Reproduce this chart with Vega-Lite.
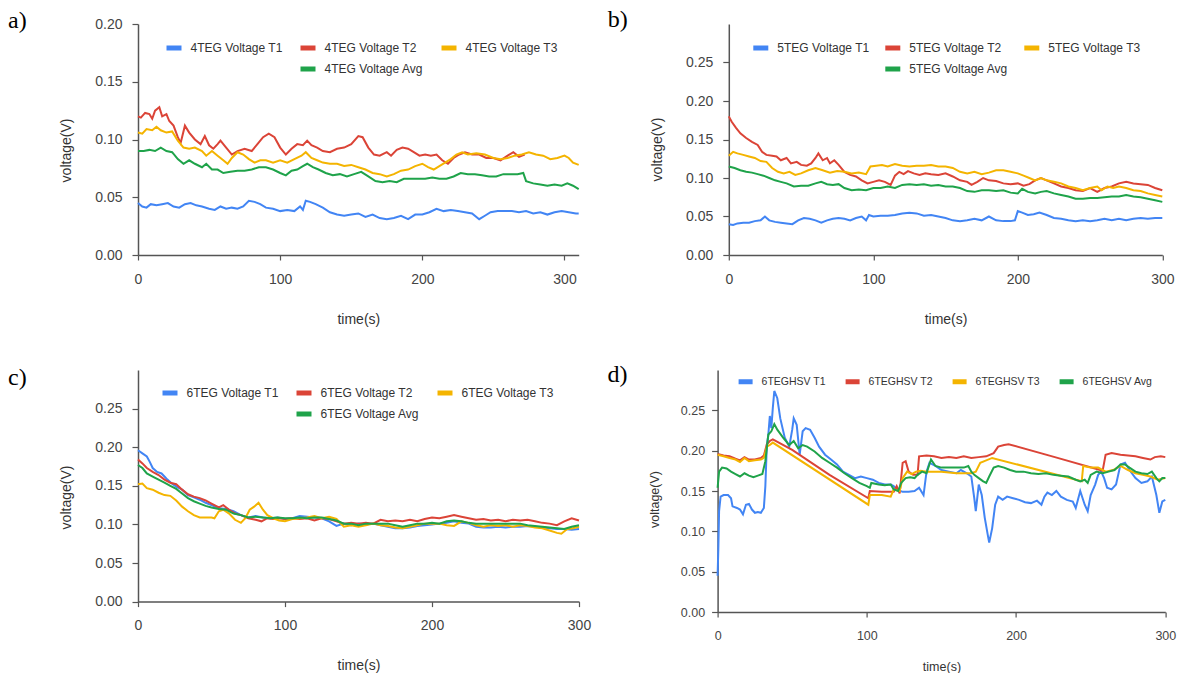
{
"$schema":"https://vega.github.io/schema/vega-lite/v6.json",
"background":"white",
"padding":{"left":8,"top":8,"right":5,"bottom":2},
"config":{
"view":{"stroke":null},
"font":"Liberation Sans",
"axis":{"grid":false,"domainColor":"#555","domainWidth":1.5,"tickColor":"#555","tickWidth":1.2,"labelColor":"#444","titleColor":"#333","labelFont":"Liberation Sans","titleFont":"Liberation Sans","labelFontSize":14,"titleFontSize":14,"titleFontWeight":"normal","labelFlush":false,"labelOverlap":false},
"axisX":{"tickSize":5,"labelPadding":12,"titlePadding":26},
"axisY":{"tickSize":6,"labelPadding":10,"titlePadding":21},
"legend":{"labelFont":"Liberation Sans","labelFontSize":12,"labelColor":"#333","symbolType":"stroke","symbolStrokeWidth":5,"symbolSize":225,"labelOffset":6.5,"columnPadding":7,"rowPadding":1,"direction":"horizontal","orient":"none"}
},
"datasets":{
"a":[
{"s":"4TEG Voltage T1","t":0,"v":0.045},{"s":"4TEG Voltage T1","t":3,"v":0.042},{"s":"4TEG Voltage T1","t":6,"v":0.041},{"s":"4TEG Voltage T1","t":9,"v":0.044},{"s":"4TEG Voltage T1","t":13,"v":0.043},{"s":"4TEG Voltage T1","t":17,"v":0.044},{"s":"4TEG Voltage T1","t":21,"v":0.045},{"s":"4TEG Voltage T1","t":25,"v":0.042},{"s":"4TEG Voltage T1","t":29,"v":0.041},{"s":"4TEG Voltage T1","t":33,"v":0.044},{"s":"4TEG Voltage T1","t":37,"v":0.045},{"s":"4TEG Voltage T1","t":41,"v":0.043},{"s":"4TEG Voltage T1","t":45,"v":0.042},{"s":"4TEG Voltage T1","t":50,"v":0.040},{"s":"4TEG Voltage T1","t":54,"v":0.039},{"s":"4TEG Voltage T1","t":58,"v":0.042},{"s":"4TEG Voltage T1","t":62,"v":0.040},{"s":"4TEG Voltage T1","t":66,"v":0.041},{"s":"4TEG Voltage T1","t":70,"v":0.040},{"s":"4TEG Voltage T1","t":74,"v":0.042},{"s":"4TEG Voltage T1","t":78,"v":0.047},{"s":"4TEG Voltage T1","t":82,"v":0.046},{"s":"4TEG Voltage T1","t":86,"v":0.044},{"s":"4TEG Voltage T1","t":90,"v":0.041},{"s":"4TEG Voltage T1","t":95,"v":0.040},{"s":"4TEG Voltage T1","t":100,"v":0.038},{"s":"4TEG Voltage T1","t":105,"v":0.039},{"s":"4TEG Voltage T1","t":110,"v":0.038},{"s":"4TEG Voltage T1","t":114,"v":0.042},{"s":"4TEG Voltage T1","t":116,"v":0.039},{"s":"4TEG Voltage T1","t":118,"v":0.047},{"s":"4TEG Voltage T1","t":121,"v":0.046},{"s":"4TEG Voltage T1","t":125,"v":0.044},{"s":"4TEG Voltage T1","t":130,"v":0.041},{"s":"4TEG Voltage T1","t":135,"v":0.037},{"s":"4TEG Voltage T1","t":140,"v":0.035},{"s":"4TEG Voltage T1","t":145,"v":0.034},{"s":"4TEG Voltage T1","t":150,"v":0.035},{"s":"4TEG Voltage T1","t":155,"v":0.036},{"s":"4TEG Voltage T1","t":160,"v":0.033},{"s":"4TEG Voltage T1","t":165,"v":0.035},{"s":"4TEG Voltage T1","t":170,"v":0.032},{"s":"4TEG Voltage T1","t":175,"v":0.031},{"s":"4TEG Voltage T1","t":180,"v":0.032},{"s":"4TEG Voltage T1","t":185,"v":0.034},{"s":"4TEG Voltage T1","t":190,"v":0.031},{"s":"4TEG Voltage T1","t":195,"v":0.035},{"s":"4TEG Voltage T1","t":200,"v":0.035},{"s":"4TEG Voltage T1","t":205,"v":0.037},{"s":"4TEG Voltage T1","t":210,"v":0.040},{"s":"4TEG Voltage T1","t":215,"v":0.038},{"s":"4TEG Voltage T1","t":220,"v":0.039},{"s":"4TEG Voltage T1","t":225,"v":0.038},{"s":"4TEG Voltage T1","t":230,"v":0.037},{"s":"4TEG Voltage T1","t":235,"v":0.036},{"s":"4TEG Voltage T1","t":240,"v":0.031},{"s":"4TEG Voltage T1","t":244,"v":0.034},{"s":"4TEG Voltage T1","t":248,"v":0.037},{"s":"4TEG Voltage T1","t":253,"v":0.038},{"s":"4TEG Voltage T1","t":258,"v":0.038},{"s":"4TEG Voltage T1","t":263,"v":0.038},{"s":"4TEG Voltage T1","t":268,"v":0.037},{"s":"4TEG Voltage T1","t":273,"v":0.038},{"s":"4TEG Voltage T1","t":278,"v":0.036},{"s":"4TEG Voltage T1","t":283,"v":0.037},{"s":"4TEG Voltage T1","t":288,"v":0.035},{"s":"4TEG Voltage T1","t":293,"v":0.037},{"s":"4TEG Voltage T1","t":298,"v":0.038},{"s":"4TEG Voltage T1","t":303,"v":0.037},{"s":"4TEG Voltage T1","t":308,"v":0.036},{"s":"4TEG Voltage T1","t":310,"v":0.036},
{"s":"4TEG Voltage T2","t":0,"v":0.120},{"s":"4TEG Voltage T2","t":2,"v":0.119},{"s":"4TEG Voltage T2","t":5,"v":0.123},{"s":"4TEG Voltage T2","t":8,"v":0.122},{"s":"4TEG Voltage T2","t":10,"v":0.118},{"s":"4TEG Voltage T2","t":12,"v":0.125},{"s":"4TEG Voltage T2","t":15,"v":0.128},{"s":"4TEG Voltage T2","t":17,"v":0.120},{"s":"4TEG Voltage T2","t":20,"v":0.122},{"s":"4TEG Voltage T2","t":22,"v":0.116},{"s":"4TEG Voltage T2","t":25,"v":0.112},{"s":"4TEG Voltage T2","t":28,"v":0.102},{"s":"4TEG Voltage T2","t":30,"v":0.097},{"s":"4TEG Voltage T2","t":33,"v":0.112},{"s":"4TEG Voltage T2","t":36,"v":0.106},{"s":"4TEG Voltage T2","t":40,"v":0.100},{"s":"4TEG Voltage T2","t":44,"v":0.096},{"s":"4TEG Voltage T2","t":47,"v":0.103},{"s":"4TEG Voltage T2","t":50,"v":0.095},{"s":"4TEG Voltage T2","t":53,"v":0.092},{"s":"4TEG Voltage T2","t":56,"v":0.096},{"s":"4TEG Voltage T2","t":58,"v":0.099},{"s":"4TEG Voltage T2","t":62,"v":0.093},{"s":"4TEG Voltage T2","t":66,"v":0.087},{"s":"4TEG Voltage T2","t":70,"v":0.090},{"s":"4TEG Voltage T2","t":75,"v":0.092},{"s":"4TEG Voltage T2","t":80,"v":0.090},{"s":"4TEG Voltage T2","t":84,"v":0.096},{"s":"4TEG Voltage T2","t":88,"v":0.102},{"s":"4TEG Voltage T2","t":92,"v":0.105},{"s":"4TEG Voltage T2","t":96,"v":0.102},{"s":"4TEG Voltage T2","t":100,"v":0.093},{"s":"4TEG Voltage T2","t":104,"v":0.087},{"s":"4TEG Voltage T2","t":108,"v":0.092},{"s":"4TEG Voltage T2","t":112,"v":0.096},{"s":"4TEG Voltage T2","t":116,"v":0.095},{"s":"4TEG Voltage T2","t":119,"v":0.099},{"s":"4TEG Voltage T2","t":122,"v":0.095},{"s":"4TEG Voltage T2","t":126,"v":0.093},{"s":"4TEG Voltage T2","t":130,"v":0.090},{"s":"4TEG Voltage T2","t":135,"v":0.089},{"s":"4TEG Voltage T2","t":140,"v":0.092},{"s":"4TEG Voltage T2","t":145,"v":0.093},{"s":"4TEG Voltage T2","t":150,"v":0.096},{"s":"4TEG Voltage T2","t":155,"v":0.103},{"s":"4TEG Voltage T2","t":158,"v":0.102},{"s":"4TEG Voltage T2","t":162,"v":0.093},{"s":"4TEG Voltage T2","t":166,"v":0.087},{"s":"4TEG Voltage T2","t":170,"v":0.086},{"s":"4TEG Voltage T2","t":175,"v":0.089},{"s":"4TEG Voltage T2","t":178,"v":0.086},{"s":"4TEG Voltage T2","t":182,"v":0.091},{"s":"4TEG Voltage T2","t":186,"v":0.093},{"s":"4TEG Voltage T2","t":190,"v":0.092},{"s":"4TEG Voltage T2","t":194,"v":0.089},{"s":"4TEG Voltage T2","t":198,"v":0.086},{"s":"4TEG Voltage T2","t":202,"v":0.087},{"s":"4TEG Voltage T2","t":206,"v":0.086},{"s":"4TEG Voltage T2","t":210,"v":0.087},{"s":"4TEG Voltage T2","t":214,"v":0.082},{"s":"4TEG Voltage T2","t":218,"v":0.079},{"s":"4TEG Voltage T2","t":222,"v":0.084},{"s":"4TEG Voltage T2","t":226,"v":0.087},{"s":"4TEG Voltage T2","t":230,"v":0.089},{"s":"4TEG Voltage T2","t":235,"v":0.087},{"s":"4TEG Voltage T2","t":240,"v":0.087},{"s":"4TEG Voltage T2","t":245,"v":0.084},{"s":"4TEG Voltage T2","t":250,"v":0.084},{"s":"4TEG Voltage T2","t":255,"v":0.082},{"s":"4TEG Voltage T2","t":260,"v":0.086},{"s":"4TEG Voltage T2","t":264,"v":0.089},{"s":"4TEG Voltage T2","t":268,"v":0.085},{"s":"4TEG Voltage T2","t":272,"v":0.087},
{"s":"4TEG Voltage T3","t":0,"v":0.106},{"s":"4TEG Voltage T3","t":3,"v":0.105},{"s":"4TEG Voltage T3","t":6,"v":0.109},{"s":"4TEG Voltage T3","t":10,"v":0.108},{"s":"4TEG Voltage T3","t":13,"v":0.111},{"s":"4TEG Voltage T3","t":16,"v":0.108},{"s":"4TEG Voltage T3","t":20,"v":0.106},{"s":"4TEG Voltage T3","t":24,"v":0.107},{"s":"4TEG Voltage T3","t":28,"v":0.099},{"s":"4TEG Voltage T3","t":32,"v":0.093},{"s":"4TEG Voltage T3","t":36,"v":0.092},{"s":"4TEG Voltage T3","t":40,"v":0.093},{"s":"4TEG Voltage T3","t":45,"v":0.090},{"s":"4TEG Voltage T3","t":48,"v":0.086},{"s":"4TEG Voltage T3","t":52,"v":0.090},{"s":"4TEG Voltage T3","t":56,"v":0.086},{"s":"4TEG Voltage T3","t":60,"v":0.082},{"s":"4TEG Voltage T3","t":63,"v":0.079},{"s":"4TEG Voltage T3","t":66,"v":0.084},{"s":"4TEG Voltage T3","t":70,"v":0.089},{"s":"4TEG Voltage T3","t":74,"v":0.087},{"s":"4TEG Voltage T3","t":78,"v":0.083},{"s":"4TEG Voltage T3","t":82,"v":0.080},{"s":"4TEG Voltage T3","t":86,"v":0.082},{"s":"4TEG Voltage T3","t":90,"v":0.082},{"s":"4TEG Voltage T3","t":95,"v":0.080},{"s":"4TEG Voltage T3","t":100,"v":0.082},{"s":"4TEG Voltage T3","t":105,"v":0.080},{"s":"4TEG Voltage T3","t":110,"v":0.083},{"s":"4TEG Voltage T3","t":115,"v":0.086},{"s":"4TEG Voltage T3","t":118,"v":0.089},{"s":"4TEG Voltage T3","t":122,"v":0.084},{"s":"4TEG Voltage T3","t":126,"v":0.082},{"s":"4TEG Voltage T3","t":130,"v":0.080},{"s":"4TEG Voltage T3","t":135,"v":0.079},{"s":"4TEG Voltage T3","t":140,"v":0.079},{"s":"4TEG Voltage T3","t":145,"v":0.077},{"s":"4TEG Voltage T3","t":150,"v":0.078},{"s":"4TEG Voltage T3","t":155,"v":0.076},{"s":"4TEG Voltage T3","t":160,"v":0.074},{"s":"4TEG Voltage T3","t":165,"v":0.071},{"s":"4TEG Voltage T3","t":170,"v":0.070},{"s":"4TEG Voltage T3","t":175,"v":0.068},{"s":"4TEG Voltage T3","t":180,"v":0.070},{"s":"4TEG Voltage T3","t":185,"v":0.073},{"s":"4TEG Voltage T3","t":190,"v":0.074},{"s":"4TEG Voltage T3","t":195,"v":0.077},{"s":"4TEG Voltage T3","t":200,"v":0.079},{"s":"4TEG Voltage T3","t":204,"v":0.076},{"s":"4TEG Voltage T3","t":208,"v":0.074},{"s":"4TEG Voltage T3","t":212,"v":0.077},{"s":"4TEG Voltage T3","t":216,"v":0.080},{"s":"4TEG Voltage T3","t":220,"v":0.083},{"s":"4TEG Voltage T3","t":224,"v":0.087},{"s":"4TEG Voltage T3","t":228,"v":0.089},{"s":"4TEG Voltage T3","t":232,"v":0.087},{"s":"4TEG Voltage T3","t":238,"v":0.088},{"s":"4TEG Voltage T3","t":244,"v":0.087},{"s":"4TEG Voltage T3","t":250,"v":0.084},{"s":"4TEG Voltage T3","t":255,"v":0.083},{"s":"4TEG Voltage T3","t":260,"v":0.084},{"s":"4TEG Voltage T3","t":265,"v":0.086},{"s":"4TEG Voltage T3","t":270,"v":0.087},{"s":"4TEG Voltage T3","t":275,"v":0.089},{"s":"4TEG Voltage T3","t":280,"v":0.087},{"s":"4TEG Voltage T3","t":285,"v":0.086},{"s":"4TEG Voltage T3","t":290,"v":0.083},{"s":"4TEG Voltage T3","t":295,"v":0.084},{"s":"4TEG Voltage T3","t":300,"v":0.086},{"s":"4TEG Voltage T3","t":303,"v":0.084},{"s":"4TEG Voltage T3","t":306,"v":0.080},{"s":"4TEG Voltage T3","t":310,"v":0.078},
{"s":"4TEG Voltage Avg","t":0,"v":0.090},{"s":"4TEG Voltage Avg","t":4,"v":0.090},{"s":"4TEG Voltage Avg","t":8,"v":0.091},{"s":"4TEG Voltage Avg","t":12,"v":0.090},{"s":"4TEG Voltage Avg","t":16,"v":0.093},{"s":"4TEG Voltage Avg","t":20,"v":0.090},{"s":"4TEG Voltage Avg","t":24,"v":0.089},{"s":"4TEG Voltage Avg","t":28,"v":0.083},{"s":"4TEG Voltage Avg","t":32,"v":0.079},{"s":"4TEG Voltage Avg","t":36,"v":0.082},{"s":"4TEG Voltage Avg","t":40,"v":0.079},{"s":"4TEG Voltage Avg","t":45,"v":0.076},{"s":"4TEG Voltage Avg","t":48,"v":0.079},{"s":"4TEG Voltage Avg","t":52,"v":0.074},{"s":"4TEG Voltage Avg","t":56,"v":0.074},{"s":"4TEG Voltage Avg","t":60,"v":0.071},{"s":"4TEG Voltage Avg","t":65,"v":0.072},{"s":"4TEG Voltage Avg","t":70,"v":0.073},{"s":"4TEG Voltage Avg","t":75,"v":0.073},{"s":"4TEG Voltage Avg","t":80,"v":0.074},{"s":"4TEG Voltage Avg","t":85,"v":0.076},{"s":"4TEG Voltage Avg","t":90,"v":0.076},{"s":"4TEG Voltage Avg","t":95,"v":0.074},{"s":"4TEG Voltage Avg","t":100,"v":0.071},{"s":"4TEG Voltage Avg","t":104,"v":0.069},{"s":"4TEG Voltage Avg","t":108,"v":0.073},{"s":"4TEG Voltage Avg","t":112,"v":0.074},{"s":"4TEG Voltage Avg","t":116,"v":0.077},{"s":"4TEG Voltage Avg","t":119,"v":0.079},{"s":"4TEG Voltage Avg","t":123,"v":0.076},{"s":"4TEG Voltage Avg","t":127,"v":0.074},{"s":"4TEG Voltage Avg","t":132,"v":0.071},{"s":"4TEG Voltage Avg","t":137,"v":0.069},{"s":"4TEG Voltage Avg","t":142,"v":0.070},{"s":"4TEG Voltage Avg","t":147,"v":0.068},{"s":"4TEG Voltage Avg","t":152,"v":0.070},{"s":"4TEG Voltage Avg","t":157,"v":0.072},{"s":"4TEG Voltage Avg","t":162,"v":0.068},{"s":"4TEG Voltage Avg","t":167,"v":0.064},{"s":"4TEG Voltage Avg","t":172,"v":0.063},{"s":"4TEG Voltage Avg","t":177,"v":0.064},{"s":"4TEG Voltage Avg","t":182,"v":0.063},{"s":"4TEG Voltage Avg","t":187,"v":0.066},{"s":"4TEG Voltage Avg","t":192,"v":0.066},{"s":"4TEG Voltage Avg","t":197,"v":0.066},{"s":"4TEG Voltage Avg","t":202,"v":0.066},{"s":"4TEG Voltage Avg","t":207,"v":0.067},{"s":"4TEG Voltage Avg","t":212,"v":0.066},{"s":"4TEG Voltage Avg","t":217,"v":0.066},{"s":"4TEG Voltage Avg","t":222,"v":0.068},{"s":"4TEG Voltage Avg","t":227,"v":0.071},{"s":"4TEG Voltage Avg","t":232,"v":0.070},{"s":"4TEG Voltage Avg","t":237,"v":0.070},{"s":"4TEG Voltage Avg","t":242,"v":0.069},{"s":"4TEG Voltage Avg","t":247,"v":0.068},{"s":"4TEG Voltage Avg","t":252,"v":0.068},{"s":"4TEG Voltage Avg","t":257,"v":0.070},{"s":"4TEG Voltage Avg","t":262,"v":0.070},{"s":"4TEG Voltage Avg","t":267,"v":0.070},{"s":"4TEG Voltage Avg","t":271,"v":0.071},{"s":"4TEG Voltage Avg","t":273,"v":0.064},{"s":"4TEG Voltage Avg","t":278,"v":0.062},{"s":"4TEG Voltage Avg","t":283,"v":0.061},{"s":"4TEG Voltage Avg","t":288,"v":0.060},{"s":"4TEG Voltage Avg","t":293,"v":0.061},{"s":"4TEG Voltage Avg","t":298,"v":0.060},{"s":"4TEG Voltage Avg","t":302,"v":0.062},{"s":"4TEG Voltage Avg","t":306,"v":0.060},{"s":"4TEG Voltage Avg","t":310,"v":0.057}
],
"b":[
{"s":"5TEG Voltage T1","t":0,"v":0.040},{"s":"5TEG Voltage T1","t":3,"v":0.039},{"s":"5TEG Voltage T1","t":6,"v":0.041},{"s":"5TEG Voltage T1","t":10,"v":0.042},{"s":"5TEG Voltage T1","t":14,"v":0.042},{"s":"5TEG Voltage T1","t":18,"v":0.044},{"s":"5TEG Voltage T1","t":22,"v":0.045},{"s":"5TEG Voltage T1","t":25,"v":0.050},{"s":"5TEG Voltage T1","t":28,"v":0.045},{"s":"5TEG Voltage T1","t":32,"v":0.043},{"s":"5TEG Voltage T1","t":36,"v":0.042},{"s":"5TEG Voltage T1","t":40,"v":0.041},{"s":"5TEG Voltage T1","t":44,"v":0.040},{"s":"5TEG Voltage T1","t":48,"v":0.045},{"s":"5TEG Voltage T1","t":52,"v":0.048},{"s":"5TEG Voltage T1","t":56,"v":0.047},{"s":"5TEG Voltage T1","t":60,"v":0.045},{"s":"5TEG Voltage T1","t":64,"v":0.042},{"s":"5TEG Voltage T1","t":68,"v":0.045},{"s":"5TEG Voltage T1","t":72,"v":0.047},{"s":"5TEG Voltage T1","t":76,"v":0.048},{"s":"5TEG Voltage T1","t":80,"v":0.047},{"s":"5TEG Voltage T1","t":84,"v":0.045},{"s":"5TEG Voltage T1","t":88,"v":0.048},{"s":"5TEG Voltage T1","t":92,"v":0.050},{"s":"5TEG Voltage T1","t":95,"v":0.045},{"s":"5TEG Voltage T1","t":97,"v":0.052},{"s":"5TEG Voltage T1","t":100,"v":0.050},{"s":"5TEG Voltage T1","t":105,"v":0.051},{"s":"5TEG Voltage T1","t":110,"v":0.051},{"s":"5TEG Voltage T1","t":115,"v":0.052},{"s":"5TEG Voltage T1","t":120,"v":0.054},{"s":"5TEG Voltage T1","t":125,"v":0.055},{"s":"5TEG Voltage T1","t":130,"v":0.054},{"s":"5TEG Voltage T1","t":135,"v":0.051},{"s":"5TEG Voltage T1","t":140,"v":0.052},{"s":"5TEG Voltage T1","t":145,"v":0.050},{"s":"5TEG Voltage T1","t":150,"v":0.048},{"s":"5TEG Voltage T1","t":155,"v":0.045},{"s":"5TEG Voltage T1","t":160,"v":0.044},{"s":"5TEG Voltage T1","t":165,"v":0.045},{"s":"5TEG Voltage T1","t":170,"v":0.047},{"s":"5TEG Voltage T1","t":175,"v":0.045},{"s":"5TEG Voltage T1","t":180,"v":0.050},{"s":"5TEG Voltage T1","t":185,"v":0.045},{"s":"5TEG Voltage T1","t":190,"v":0.044},{"s":"5TEG Voltage T1","t":195,"v":0.044},{"s":"5TEG Voltage T1","t":198,"v":0.045},{"s":"5TEG Voltage T1","t":200,"v":0.057},{"s":"5TEG Voltage T1","t":203,"v":0.055},{"s":"5TEG Voltage T1","t":207,"v":0.052},{"s":"5TEG Voltage T1","t":211,"v":0.053},{"s":"5TEG Voltage T1","t":215,"v":0.055},{"s":"5TEG Voltage T1","t":220,"v":0.052},{"s":"5TEG Voltage T1","t":225,"v":0.048},{"s":"5TEG Voltage T1","t":230,"v":0.047},{"s":"5TEG Voltage T1","t":235,"v":0.045},{"s":"5TEG Voltage T1","t":240,"v":0.044},{"s":"5TEG Voltage T1","t":245,"v":0.045},{"s":"5TEG Voltage T1","t":250,"v":0.044},{"s":"5TEG Voltage T1","t":255,"v":0.045},{"s":"5TEG Voltage T1","t":260,"v":0.047},{"s":"5TEG Voltage T1","t":265,"v":0.045},{"s":"5TEG Voltage T1","t":270,"v":0.047},{"s":"5TEG Voltage T1","t":275,"v":0.045},{"s":"5TEG Voltage T1","t":280,"v":0.047},{"s":"5TEG Voltage T1","t":285,"v":0.048},{"s":"5TEG Voltage T1","t":290,"v":0.047},{"s":"5TEG Voltage T1","t":295,"v":0.048},{"s":"5TEG Voltage T1","t":300,"v":0.048},
{"s":"5TEG Voltage T2","t":0,"v":0.180},{"s":"5TEG Voltage T2","t":2,"v":0.173},{"s":"5TEG Voltage T2","t":5,"v":0.165},{"s":"5TEG Voltage T2","t":8,"v":0.158},{"s":"5TEG Voltage T2","t":12,"v":0.152},{"s":"5TEG Voltage T2","t":16,"v":0.147},{"s":"5TEG Voltage T2","t":20,"v":0.143},{"s":"5TEG Voltage T2","t":23,"v":0.134},{"s":"5TEG Voltage T2","t":26,"v":0.130},{"s":"5TEG Voltage T2","t":30,"v":0.129},{"s":"5TEG Voltage T2","t":33,"v":0.128},{"s":"5TEG Voltage T2","t":36,"v":0.123},{"s":"5TEG Voltage T2","t":40,"v":0.126},{"s":"5TEG Voltage T2","t":43,"v":0.119},{"s":"5TEG Voltage T2","t":47,"v":0.121},{"s":"5TEG Voltage T2","t":50,"v":0.117},{"s":"5TEG Voltage T2","t":54,"v":0.116},{"s":"5TEG Voltage T2","t":57,"v":0.119},{"s":"5TEG Voltage T2","t":60,"v":0.126},{"s":"5TEG Voltage T2","t":62,"v":0.132},{"s":"5TEG Voltage T2","t":65,"v":0.123},{"s":"5TEG Voltage T2","t":68,"v":0.126},{"s":"5TEG Voltage T2","t":70,"v":0.119},{"s":"5TEG Voltage T2","t":73,"v":0.123},{"s":"5TEG Voltage T2","t":76,"v":0.117},{"s":"5TEG Voltage T2","t":80,"v":0.108},{"s":"5TEG Voltage T2","t":84,"v":0.104},{"s":"5TEG Voltage T2","t":88,"v":0.102},{"s":"5TEG Voltage T2","t":92,"v":0.097},{"s":"5TEG Voltage T2","t":96,"v":0.093},{"s":"5TEG Voltage T2","t":100,"v":0.095},{"s":"5TEG Voltage T2","t":104,"v":0.097},{"s":"5TEG Voltage T2","t":108,"v":0.095},{"s":"5TEG Voltage T2","t":112,"v":0.091},{"s":"5TEG Voltage T2","t":115,"v":0.103},{"s":"5TEG Voltage T2","t":118,"v":0.108},{"s":"5TEG Voltage T2","t":121,"v":0.105},{"s":"5TEG Voltage T2","t":124,"v":0.109},{"s":"5TEG Voltage T2","t":128,"v":0.106},{"s":"5TEG Voltage T2","t":132,"v":0.104},{"s":"5TEG Voltage T2","t":136,"v":0.106},{"s":"5TEG Voltage T2","t":140,"v":0.105},{"s":"5TEG Voltage T2","t":145,"v":0.104},{"s":"5TEG Voltage T2","t":150,"v":0.106},{"s":"5TEG Voltage T2","t":155,"v":0.102},{"s":"5TEG Voltage T2","t":160,"v":0.097},{"s":"5TEG Voltage T2","t":165,"v":0.095},{"s":"5TEG Voltage T2","t":168,"v":0.091},{"s":"5TEG Voltage T2","t":172,"v":0.095},{"s":"5TEG Voltage T2","t":176,"v":0.100},{"s":"5TEG Voltage T2","t":180,"v":0.097},{"s":"5TEG Voltage T2","t":185,"v":0.096},{"s":"5TEG Voltage T2","t":190,"v":0.093},{"s":"5TEG Voltage T2","t":195,"v":0.092},{"s":"5TEG Voltage T2","t":200,"v":0.093},{"s":"5TEG Voltage T2","t":204,"v":0.090},{"s":"5TEG Voltage T2","t":208,"v":0.092},{"s":"5TEG Voltage T2","t":212,"v":0.097},{"s":"5TEG Voltage T2","t":216,"v":0.100},{"s":"5TEG Voltage T2","t":220,"v":0.097},{"s":"5TEG Voltage T2","t":225,"v":0.093},{"s":"5TEG Voltage T2","t":230,"v":0.089},{"s":"5TEG Voltage T2","t":235,"v":0.087},{"s":"5TEG Voltage T2","t":240,"v":0.084},{"s":"5TEG Voltage T2","t":245,"v":0.083},{"s":"5TEG Voltage T2","t":250,"v":0.087},{"s":"5TEG Voltage T2","t":255,"v":0.082},{"s":"5TEG Voltage T2","t":260,"v":0.087},{"s":"5TEG Voltage T2","t":265,"v":0.089},{"s":"5TEG Voltage T2","t":270,"v":0.093},{"s":"5TEG Voltage T2","t":275,"v":0.095},{"s":"5TEG Voltage T2","t":280,"v":0.093},{"s":"5TEG Voltage T2","t":285,"v":0.092},{"s":"5TEG Voltage T2","t":290,"v":0.091},{"s":"5TEG Voltage T2","t":295,"v":0.087},{"s":"5TEG Voltage T2","t":300,"v":0.084},
{"s":"5TEG Voltage T3","t":0,"v":0.129},{"s":"5TEG Voltage T3","t":3,"v":0.134},{"s":"5TEG Voltage T3","t":6,"v":0.132},{"s":"5TEG Voltage T3","t":10,"v":0.130},{"s":"5TEG Voltage T3","t":14,"v":0.128},{"s":"5TEG Voltage T3","t":18,"v":0.126},{"s":"5TEG Voltage T3","t":22,"v":0.122},{"s":"5TEG Voltage T3","t":26,"v":0.121},{"s":"5TEG Voltage T3","t":30,"v":0.113},{"s":"5TEG Voltage T3","t":34,"v":0.108},{"s":"5TEG Voltage T3","t":38,"v":0.106},{"s":"5TEG Voltage T3","t":42,"v":0.108},{"s":"5TEG Voltage T3","t":46,"v":0.104},{"s":"5TEG Voltage T3","t":50,"v":0.106},{"s":"5TEG Voltage T3","t":55,"v":0.110},{"s":"5TEG Voltage T3","t":60,"v":0.113},{"s":"5TEG Voltage T3","t":65,"v":0.110},{"s":"5TEG Voltage T3","t":70,"v":0.107},{"s":"5TEG Voltage T3","t":75,"v":0.109},{"s":"5TEG Voltage T3","t":80,"v":0.108},{"s":"5TEG Voltage T3","t":85,"v":0.106},{"s":"5TEG Voltage T3","t":90,"v":0.107},{"s":"5TEG Voltage T3","t":95,"v":0.105},{"s":"5TEG Voltage T3","t":98,"v":0.115},{"s":"5TEG Voltage T3","t":102,"v":0.116},{"s":"5TEG Voltage T3","t":106,"v":0.117},{"s":"5TEG Voltage T3","t":110,"v":0.115},{"s":"5TEG Voltage T3","t":115,"v":0.118},{"s":"5TEG Voltage T3","t":120,"v":0.116},{"s":"5TEG Voltage T3","t":125,"v":0.115},{"s":"5TEG Voltage T3","t":130,"v":0.116},{"s":"5TEG Voltage T3","t":135,"v":0.116},{"s":"5TEG Voltage T3","t":140,"v":0.117},{"s":"5TEG Voltage T3","t":145,"v":0.115},{"s":"5TEG Voltage T3","t":150,"v":0.115},{"s":"5TEG Voltage T3","t":155,"v":0.113},{"s":"5TEG Voltage T3","t":160,"v":0.108},{"s":"5TEG Voltage T3","t":165,"v":0.106},{"s":"5TEG Voltage T3","t":170,"v":0.108},{"s":"5TEG Voltage T3","t":175,"v":0.105},{"s":"5TEG Voltage T3","t":180,"v":0.107},{"s":"5TEG Voltage T3","t":185,"v":0.110},{"s":"5TEG Voltage T3","t":190,"v":0.110},{"s":"5TEG Voltage T3","t":195,"v":0.108},{"s":"5TEG Voltage T3","t":200,"v":0.106},{"s":"5TEG Voltage T3","t":204,"v":0.103},{"s":"5TEG Voltage T3","t":208,"v":0.100},{"s":"5TEG Voltage T3","t":212,"v":0.097},{"s":"5TEG Voltage T3","t":216,"v":0.100},{"s":"5TEG Voltage T3","t":220,"v":0.097},{"s":"5TEG Voltage T3","t":225,"v":0.095},{"s":"5TEG Voltage T3","t":230,"v":0.093},{"s":"5TEG Voltage T3","t":235,"v":0.089},{"s":"5TEG Voltage T3","t":240,"v":0.087},{"s":"5TEG Voltage T3","t":245,"v":0.084},{"s":"5TEG Voltage T3","t":250,"v":0.087},{"s":"5TEG Voltage T3","t":255,"v":0.089},{"s":"5TEG Voltage T3","t":258,"v":0.084},{"s":"5TEG Voltage T3","t":262,"v":0.089},{"s":"5TEG Voltage T3","t":266,"v":0.087},{"s":"5TEG Voltage T3","t":270,"v":0.089},{"s":"5TEG Voltage T3","t":275,"v":0.087},{"s":"5TEG Voltage T3","t":280,"v":0.084},{"s":"5TEG Voltage T3","t":285,"v":0.083},{"s":"5TEG Voltage T3","t":290,"v":0.080},{"s":"5TEG Voltage T3","t":295,"v":0.078},{"s":"5TEG Voltage T3","t":300,"v":0.076},
{"s":"5TEG Voltage Avg","t":0,"v":0.115},{"s":"5TEG Voltage Avg","t":4,"v":0.113},{"s":"5TEG Voltage Avg","t":8,"v":0.110},{"s":"5TEG Voltage Avg","t":12,"v":0.108},{"s":"5TEG Voltage Avg","t":16,"v":0.107},{"s":"5TEG Voltage Avg","t":20,"v":0.105},{"s":"5TEG Voltage Avg","t":24,"v":0.103},{"s":"5TEG Voltage Avg","t":28,"v":0.100},{"s":"5TEG Voltage Avg","t":32,"v":0.097},{"s":"5TEG Voltage Avg","t":36,"v":0.095},{"s":"5TEG Voltage Avg","t":40,"v":0.093},{"s":"5TEG Voltage Avg","t":45,"v":0.089},{"s":"5TEG Voltage Avg","t":50,"v":0.090},{"s":"5TEG Voltage Avg","t":55,"v":0.090},{"s":"5TEG Voltage Avg","t":60,"v":0.093},{"s":"5TEG Voltage Avg","t":64,"v":0.095},{"s":"5TEG Voltage Avg","t":68,"v":0.092},{"s":"5TEG Voltage Avg","t":72,"v":0.091},{"s":"5TEG Voltage Avg","t":76,"v":0.092},{"s":"5TEG Voltage Avg","t":80,"v":0.087},{"s":"5TEG Voltage Avg","t":85,"v":0.084},{"s":"5TEG Voltage Avg","t":90,"v":0.085},{"s":"5TEG Voltage Avg","t":95,"v":0.084},{"s":"5TEG Voltage Avg","t":100,"v":0.087},{"s":"5TEG Voltage Avg","t":105,"v":0.087},{"s":"5TEG Voltage Avg","t":110,"v":0.089},{"s":"5TEG Voltage Avg","t":115,"v":0.087},{"s":"5TEG Voltage Avg","t":120,"v":0.091},{"s":"5TEG Voltage Avg","t":125,"v":0.092},{"s":"5TEG Voltage Avg","t":130,"v":0.091},{"s":"5TEG Voltage Avg","t":135,"v":0.092},{"s":"5TEG Voltage Avg","t":140,"v":0.090},{"s":"5TEG Voltage Avg","t":145,"v":0.091},{"s":"5TEG Voltage Avg","t":150,"v":0.089},{"s":"5TEG Voltage Avg","t":155,"v":0.089},{"s":"5TEG Voltage Avg","t":160,"v":0.087},{"s":"5TEG Voltage Avg","t":165,"v":0.083},{"s":"5TEG Voltage Avg","t":170,"v":0.082},{"s":"5TEG Voltage Avg","t":175,"v":0.084},{"s":"5TEG Voltage Avg","t":180,"v":0.084},{"s":"5TEG Voltage Avg","t":185,"v":0.083},{"s":"5TEG Voltage Avg","t":190,"v":0.084},{"s":"5TEG Voltage Avg","t":195,"v":0.081},{"s":"5TEG Voltage Avg","t":200,"v":0.080},{"s":"5TEG Voltage Avg","t":203,"v":0.086},{"s":"5TEG Voltage Avg","t":207,"v":0.082},{"s":"5TEG Voltage Avg","t":212,"v":0.080},{"s":"5TEG Voltage Avg","t":216,"v":0.082},{"s":"5TEG Voltage Avg","t":220,"v":0.083},{"s":"5TEG Voltage Avg","t":225,"v":0.080},{"s":"5TEG Voltage Avg","t":230,"v":0.078},{"s":"5TEG Voltage Avg","t":235,"v":0.076},{"s":"5TEG Voltage Avg","t":240,"v":0.073},{"s":"5TEG Voltage Avg","t":245,"v":0.073},{"s":"5TEG Voltage Avg","t":250,"v":0.074},{"s":"5TEG Voltage Avg","t":255,"v":0.074},{"s":"5TEG Voltage Avg","t":260,"v":0.075},{"s":"5TEG Voltage Avg","t":265,"v":0.076},{"s":"5TEG Voltage Avg","t":270,"v":0.076},{"s":"5TEG Voltage Avg","t":275,"v":0.078},{"s":"5TEG Voltage Avg","t":280,"v":0.076},{"s":"5TEG Voltage Avg","t":285,"v":0.075},{"s":"5TEG Voltage Avg","t":290,"v":0.073},{"s":"5TEG Voltage Avg","t":295,"v":0.071},{"s":"5TEG Voltage Avg","t":300,"v":0.069}
],
"c":[
{"s":"6TEG Voltage T1","t":0,"v":0.196},{"s":"6TEG Voltage T1","t":3,"v":0.192},{"s":"6TEG Voltage T1","t":6,"v":0.188},{"s":"6TEG Voltage T1","t":8,"v":0.181},{"s":"6TEG Voltage T1","t":10,"v":0.173},{"s":"6TEG Voltage T1","t":13,"v":0.168},{"s":"6TEG Voltage T1","t":16,"v":0.166},{"s":"6TEG Voltage T1","t":18,"v":0.162},{"s":"6TEG Voltage T1","t":20,"v":0.158},{"s":"6TEG Voltage T1","t":23,"v":0.153},{"s":"6TEG Voltage T1","t":26,"v":0.149},{"s":"6TEG Voltage T1","t":30,"v":0.145},{"s":"6TEG Voltage T1","t":34,"v":0.138},{"s":"6TEG Voltage T1","t":38,"v":0.135},{"s":"6TEG Voltage T1","t":42,"v":0.132},{"s":"6TEG Voltage T1","t":46,"v":0.128},{"s":"6TEG Voltage T1","t":50,"v":0.125},{"s":"6TEG Voltage T1","t":55,"v":0.121},{"s":"6TEG Voltage T1","t":60,"v":0.120},{"s":"6TEG Voltage T1","t":65,"v":0.117},{"s":"6TEG Voltage T1","t":70,"v":0.112},{"s":"6TEG Voltage T1","t":75,"v":0.109},{"s":"6TEG Voltage T1","t":80,"v":0.111},{"s":"6TEG Voltage T1","t":85,"v":0.109},{"s":"6TEG Voltage T1","t":90,"v":0.108},{"s":"6TEG Voltage T1","t":95,"v":0.109},{"s":"6TEG Voltage T1","t":100,"v":0.107},{"s":"6TEG Voltage T1","t":105,"v":0.108},{"s":"6TEG Voltage T1","t":110,"v":0.111},{"s":"6TEG Voltage T1","t":115,"v":0.110},{"s":"6TEG Voltage T1","t":120,"v":0.109},{"s":"6TEG Voltage T1","t":125,"v":0.108},{"s":"6TEG Voltage T1","t":130,"v":0.104},{"s":"6TEG Voltage T1","t":135,"v":0.098},{"s":"6TEG Voltage T1","t":140,"v":0.101},{"s":"6TEG Voltage T1","t":145,"v":0.099},{"s":"6TEG Voltage T1","t":150,"v":0.101},{"s":"6TEG Voltage T1","t":155,"v":0.100},{"s":"6TEG Voltage T1","t":160,"v":0.101},{"s":"6TEG Voltage T1","t":165,"v":0.099},{"s":"6TEG Voltage T1","t":170,"v":0.097},{"s":"6TEG Voltage T1","t":175,"v":0.095},{"s":"6TEG Voltage T1","t":180,"v":0.095},{"s":"6TEG Voltage T1","t":185,"v":0.096},{"s":"6TEG Voltage T1","t":190,"v":0.098},{"s":"6TEG Voltage T1","t":195,"v":0.099},{"s":"6TEG Voltage T1","t":200,"v":0.100},{"s":"6TEG Voltage T1","t":205,"v":0.101},{"s":"6TEG Voltage T1","t":210,"v":0.102},{"s":"6TEG Voltage T1","t":215,"v":0.104},{"s":"6TEG Voltage T1","t":220,"v":0.102},{"s":"6TEG Voltage T1","t":225,"v":0.101},{"s":"6TEG Voltage T1","t":230,"v":0.097},{"s":"6TEG Voltage T1","t":235,"v":0.096},{"s":"6TEG Voltage T1","t":240,"v":0.096},{"s":"6TEG Voltage T1","t":245,"v":0.097},{"s":"6TEG Voltage T1","t":250,"v":0.096},{"s":"6TEG Voltage T1","t":255,"v":0.097},{"s":"6TEG Voltage T1","t":260,"v":0.097},{"s":"6TEG Voltage T1","t":265,"v":0.098},{"s":"6TEG Voltage T1","t":270,"v":0.097},{"s":"6TEG Voltage T1","t":275,"v":0.096},{"s":"6TEG Voltage T1","t":280,"v":0.095},{"s":"6TEG Voltage T1","t":285,"v":0.094},{"s":"6TEG Voltage T1","t":290,"v":0.094},{"s":"6TEG Voltage T1","t":295,"v":0.093},{"s":"6TEG Voltage T1","t":300,"v":0.094},
{"s":"6TEG Voltage T2","t":0,"v":0.184},{"s":"6TEG Voltage T2","t":3,"v":0.179},{"s":"6TEG Voltage T2","t":6,"v":0.173},{"s":"6TEG Voltage T2","t":10,"v":0.168},{"s":"6TEG Voltage T2","t":14,"v":0.164},{"s":"6TEG Voltage T2","t":18,"v":0.158},{"s":"6TEG Voltage T2","t":22,"v":0.154},{"s":"6TEG Voltage T2","t":26,"v":0.152},{"s":"6TEG Voltage T2","t":30,"v":0.145},{"s":"6TEG Voltage T2","t":34,"v":0.139},{"s":"6TEG Voltage T2","t":38,"v":0.136},{"s":"6TEG Voltage T2","t":42,"v":0.134},{"s":"6TEG Voltage T2","t":46,"v":0.131},{"s":"6TEG Voltage T2","t":50,"v":0.127},{"s":"6TEG Voltage T2","t":55,"v":0.122},{"s":"6TEG Voltage T2","t":58,"v":0.125},{"s":"6TEG Voltage T2","t":62,"v":0.119},{"s":"6TEG Voltage T2","t":66,"v":0.114},{"s":"6TEG Voltage T2","t":70,"v":0.112},{"s":"6TEG Voltage T2","t":75,"v":0.108},{"s":"6TEG Voltage T2","t":80,"v":0.106},{"s":"6TEG Voltage T2","t":84,"v":0.104},{"s":"6TEG Voltage T2","t":88,"v":0.108},{"s":"6TEG Voltage T2","t":92,"v":0.107},{"s":"6TEG Voltage T2","t":96,"v":0.108},{"s":"6TEG Voltage T2","t":100,"v":0.107},{"s":"6TEG Voltage T2","t":105,"v":0.108},{"s":"6TEG Voltage T2","t":110,"v":0.107},{"s":"6TEG Voltage T2","t":115,"v":0.108},{"s":"6TEG Voltage T2","t":120,"v":0.105},{"s":"6TEG Voltage T2","t":125,"v":0.108},{"s":"6TEG Voltage T2","t":130,"v":0.107},{"s":"6TEG Voltage T2","t":135,"v":0.104},{"s":"6TEG Voltage T2","t":140,"v":0.101},{"s":"6TEG Voltage T2","t":145,"v":0.102},{"s":"6TEG Voltage T2","t":150,"v":0.101},{"s":"6TEG Voltage T2","t":155,"v":0.102},{"s":"6TEG Voltage T2","t":160,"v":0.101},{"s":"6TEG Voltage T2","t":165,"v":0.106},{"s":"6TEG Voltage T2","t":170,"v":0.104},{"s":"6TEG Voltage T2","t":175,"v":0.105},{"s":"6TEG Voltage T2","t":180,"v":0.104},{"s":"6TEG Voltage T2","t":185,"v":0.106},{"s":"6TEG Voltage T2","t":190,"v":0.104},{"s":"6TEG Voltage T2","t":195,"v":0.107},{"s":"6TEG Voltage T2","t":200,"v":0.109},{"s":"6TEG Voltage T2","t":205,"v":0.108},{"s":"6TEG Voltage T2","t":210,"v":0.110},{"s":"6TEG Voltage T2","t":215,"v":0.112},{"s":"6TEG Voltage T2","t":220,"v":0.110},{"s":"6TEG Voltage T2","t":225,"v":0.108},{"s":"6TEG Voltage T2","t":230,"v":0.106},{"s":"6TEG Voltage T2","t":235,"v":0.107},{"s":"6TEG Voltage T2","t":240,"v":0.105},{"s":"6TEG Voltage T2","t":245,"v":0.106},{"s":"6TEG Voltage T2","t":250,"v":0.104},{"s":"6TEG Voltage T2","t":255,"v":0.106},{"s":"6TEG Voltage T2","t":260,"v":0.105},{"s":"6TEG Voltage T2","t":265,"v":0.106},{"s":"6TEG Voltage T2","t":270,"v":0.104},{"s":"6TEG Voltage T2","t":275,"v":0.102},{"s":"6TEG Voltage T2","t":280,"v":0.101},{"s":"6TEG Voltage T2","t":285,"v":0.099},{"s":"6TEG Voltage T2","t":290,"v":0.104},{"s":"6TEG Voltage T2","t":295,"v":0.108},{"s":"6TEG Voltage T2","t":300,"v":0.105},
{"s":"6TEG Voltage T3","t":0,"v":0.152},{"s":"6TEG Voltage T3","t":3,"v":0.153},{"s":"6TEG Voltage T3","t":6,"v":0.147},{"s":"6TEG Voltage T3","t":10,"v":0.145},{"s":"6TEG Voltage T3","t":14,"v":0.141},{"s":"6TEG Voltage T3","t":18,"v":0.138},{"s":"6TEG Voltage T3","t":22,"v":0.137},{"s":"6TEG Voltage T3","t":26,"v":0.131},{"s":"6TEG Voltage T3","t":30,"v":0.123},{"s":"6TEG Voltage T3","t":34,"v":0.117},{"s":"6TEG Voltage T3","t":38,"v":0.112},{"s":"6TEG Voltage T3","t":42,"v":0.109},{"s":"6TEG Voltage T3","t":46,"v":0.109},{"s":"6TEG Voltage T3","t":50,"v":0.109},{"s":"6TEG Voltage T3","t":52,"v":0.108},{"s":"6TEG Voltage T3","t":55,"v":0.117},{"s":"6TEG Voltage T3","t":58,"v":0.119},{"s":"6TEG Voltage T3","t":62,"v":0.114},{"s":"6TEG Voltage T3","t":66,"v":0.106},{"s":"6TEG Voltage T3","t":70,"v":0.102},{"s":"6TEG Voltage T3","t":73,"v":0.108},{"s":"6TEG Voltage T3","t":76,"v":0.119},{"s":"6TEG Voltage T3","t":79,"v":0.123},{"s":"6TEG Voltage T3","t":82,"v":0.128},{"s":"6TEG Voltage T3","t":85,"v":0.119},{"s":"6TEG Voltage T3","t":88,"v":0.112},{"s":"6TEG Voltage T3","t":92,"v":0.108},{"s":"6TEG Voltage T3","t":96,"v":0.105},{"s":"6TEG Voltage T3","t":100,"v":0.104},{"s":"6TEG Voltage T3","t":105,"v":0.107},{"s":"6TEG Voltage T3","t":110,"v":0.108},{"s":"6TEG Voltage T3","t":115,"v":0.109},{"s":"6TEG Voltage T3","t":120,"v":0.111},{"s":"6TEG Voltage T3","t":125,"v":0.108},{"s":"6TEG Voltage T3","t":130,"v":0.110},{"s":"6TEG Voltage T3","t":135,"v":0.107},{"s":"6TEG Voltage T3","t":140,"v":0.097},{"s":"6TEG Voltage T3","t":145,"v":0.099},{"s":"6TEG Voltage T3","t":150,"v":0.097},{"s":"6TEG Voltage T3","t":155,"v":0.099},{"s":"6TEG Voltage T3","t":160,"v":0.101},{"s":"6TEG Voltage T3","t":165,"v":0.099},{"s":"6TEG Voltage T3","t":170,"v":0.098},{"s":"6TEG Voltage T3","t":175,"v":0.096},{"s":"6TEG Voltage T3","t":180,"v":0.095},{"s":"6TEG Voltage T3","t":185,"v":0.097},{"s":"6TEG Voltage T3","t":190,"v":0.099},{"s":"6TEG Voltage T3","t":195,"v":0.101},{"s":"6TEG Voltage T3","t":200,"v":0.101},{"s":"6TEG Voltage T3","t":205,"v":0.101},{"s":"6TEG Voltage T3","t":210,"v":0.099},{"s":"6TEG Voltage T3","t":215,"v":0.098},{"s":"6TEG Voltage T3","t":220,"v":0.104},{"s":"6TEG Voltage T3","t":225,"v":0.102},{"s":"6TEG Voltage T3","t":230,"v":0.099},{"s":"6TEG Voltage T3","t":235,"v":0.097},{"s":"6TEG Voltage T3","t":240,"v":0.099},{"s":"6TEG Voltage T3","t":245,"v":0.098},{"s":"6TEG Voltage T3","t":250,"v":0.099},{"s":"6TEG Voltage T3","t":255,"v":0.097},{"s":"6TEG Voltage T3","t":260,"v":0.099},{"s":"6TEG Voltage T3","t":265,"v":0.098},{"s":"6TEG Voltage T3","t":270,"v":0.096},{"s":"6TEG Voltage T3","t":275,"v":0.095},{"s":"6TEG Voltage T3","t":280,"v":0.092},{"s":"6TEG Voltage T3","t":285,"v":0.089},{"s":"6TEG Voltage T3","t":288,"v":0.088},{"s":"6TEG Voltage T3","t":292,"v":0.094},{"s":"6TEG Voltage T3","t":296,"v":0.095},{"s":"6TEG Voltage T3","t":300,"v":0.097},
{"s":"6TEG Voltage Avg","t":0,"v":0.177},{"s":"6TEG Voltage Avg","t":3,"v":0.173},{"s":"6TEG Voltage Avg","t":6,"v":0.166},{"s":"6TEG Voltage Avg","t":10,"v":0.162},{"s":"6TEG Voltage Avg","t":14,"v":0.158},{"s":"6TEG Voltage Avg","t":18,"v":0.154},{"s":"6TEG Voltage Avg","t":22,"v":0.150},{"s":"6TEG Voltage Avg","t":26,"v":0.146},{"s":"6TEG Voltage Avg","t":30,"v":0.140},{"s":"6TEG Voltage Avg","t":34,"v":0.134},{"s":"6TEG Voltage Avg","t":38,"v":0.130},{"s":"6TEG Voltage Avg","t":42,"v":0.127},{"s":"6TEG Voltage Avg","t":46,"v":0.124},{"s":"6TEG Voltage Avg","t":50,"v":0.122},{"s":"6TEG Voltage Avg","t":55,"v":0.120},{"s":"6TEG Voltage Avg","t":60,"v":0.119},{"s":"6TEG Voltage Avg","t":65,"v":0.114},{"s":"6TEG Voltage Avg","t":70,"v":0.112},{"s":"6TEG Voltage Avg","t":75,"v":0.109},{"s":"6TEG Voltage Avg","t":80,"v":0.110},{"s":"6TEG Voltage Avg","t":85,"v":0.109},{"s":"6TEG Voltage Avg","t":90,"v":0.108},{"s":"6TEG Voltage Avg","t":95,"v":0.109},{"s":"6TEG Voltage Avg","t":100,"v":0.108},{"s":"6TEG Voltage Avg","t":105,"v":0.108},{"s":"6TEG Voltage Avg","t":110,"v":0.109},{"s":"6TEG Voltage Avg","t":115,"v":0.108},{"s":"6TEG Voltage Avg","t":120,"v":0.109},{"s":"6TEG Voltage Avg","t":125,"v":0.109},{"s":"6TEG Voltage Avg","t":130,"v":0.107},{"s":"6TEG Voltage Avg","t":135,"v":0.105},{"s":"6TEG Voltage Avg","t":140,"v":0.101},{"s":"6TEG Voltage Avg","t":145,"v":0.101},{"s":"6TEG Voltage Avg","t":150,"v":0.099},{"s":"6TEG Voltage Avg","t":155,"v":0.101},{"s":"6TEG Voltage Avg","t":160,"v":0.101},{"s":"6TEG Voltage Avg","t":165,"v":0.101},{"s":"6TEG Voltage Avg","t":170,"v":0.101},{"s":"6TEG Voltage Avg","t":175,"v":0.099},{"s":"6TEG Voltage Avg","t":180,"v":0.097},{"s":"6TEG Voltage Avg","t":185,"v":0.099},{"s":"6TEG Voltage Avg","t":190,"v":0.101},{"s":"6TEG Voltage Avg","t":195,"v":0.101},{"s":"6TEG Voltage Avg","t":200,"v":0.102},{"s":"6TEG Voltage Avg","t":205,"v":0.101},{"s":"6TEG Voltage Avg","t":210,"v":0.104},{"s":"6TEG Voltage Avg","t":215,"v":0.105},{"s":"6TEG Voltage Avg","t":220,"v":0.104},{"s":"6TEG Voltage Avg","t":225,"v":0.102},{"s":"6TEG Voltage Avg","t":230,"v":0.101},{"s":"6TEG Voltage Avg","t":235,"v":0.101},{"s":"6TEG Voltage Avg","t":240,"v":0.101},{"s":"6TEG Voltage Avg","t":245,"v":0.101},{"s":"6TEG Voltage Avg","t":250,"v":0.101},{"s":"6TEG Voltage Avg","t":255,"v":0.101},{"s":"6TEG Voltage Avg","t":260,"v":0.101},{"s":"6TEG Voltage Avg","t":265,"v":0.099},{"s":"6TEG Voltage Avg","t":270,"v":0.098},{"s":"6TEG Voltage Avg","t":275,"v":0.097},{"s":"6TEG Voltage Avg","t":280,"v":0.096},{"s":"6TEG Voltage Avg","t":285,"v":0.095},{"s":"6TEG Voltage Avg","t":290,"v":0.094},{"s":"6TEG Voltage Avg","t":295,"v":0.097},{"s":"6TEG Voltage Avg","t":300,"v":0.099}
],
"d":[
{"s":"6TEGHSV T1","t":0,"v":0.045},{"s":"6TEGHSV T1","t":0.5,"v":0.079},{"s":"6TEGHSV T1","t":1,"v":0.125},{"s":"6TEGHSV T1","t":2,"v":0.143},{"s":"6TEGHSV T1","t":4,"v":0.145},{"s":"6TEGHSV T1","t":7,"v":0.145},{"s":"6TEGHSV T1","t":9,"v":0.141},{"s":"6TEGHSV T1","t":10,"v":0.131},{"s":"6TEGHSV T1","t":13,"v":0.129},{"s":"6TEGHSV T1","t":15,"v":0.127},{"s":"6TEGHSV T1","t":17,"v":0.121},{"s":"6TEGHSV T1","t":19,"v":0.133},{"s":"6TEGHSV T1","t":21,"v":0.134},{"s":"6TEGHSV T1","t":23,"v":0.127},{"s":"6TEGHSV T1","t":25,"v":0.123},{"s":"6TEGHSV T1","t":27,"v":0.124},{"s":"6TEGHSV T1","t":29,"v":0.123},{"s":"6TEGHSV T1","t":31,"v":0.129},{"s":"6TEGHSV T1","t":32,"v":0.156},{"s":"6TEGHSV T1","t":33,"v":0.207},{"s":"6TEGHSV T1","t":34,"v":0.220},{"s":"6TEGHSV T1","t":35,"v":0.243},{"s":"6TEGHSV T1","t":36,"v":0.228},{"s":"6TEGHSV T1","t":37,"v":0.253},{"s":"6TEGHSV T1","t":38,"v":0.274},{"s":"6TEGHSV T1","t":40,"v":0.265},{"s":"6TEGHSV T1","t":42,"v":0.240},{"s":"6TEGHSV T1","t":45,"v":0.216},{"s":"6TEGHSV T1","t":48,"v":0.205},{"s":"6TEGHSV T1","t":50,"v":0.226},{"s":"6TEGHSV T1","t":51,"v":0.240},{"s":"6TEGHSV T1","t":53,"v":0.232},{"s":"6TEGHSV T1","t":55,"v":0.195},{"s":"6TEGHSV T1","t":57,"v":0.224},{"s":"6TEGHSV T1","t":59,"v":0.228},{"s":"6TEGHSV T1","t":62,"v":0.226},{"s":"6TEGHSV T1","t":65,"v":0.216},{"s":"6TEGHSV T1","t":68,"v":0.205},{"s":"6TEGHSV T1","t":72,"v":0.195},{"s":"6TEGHSV T1","t":76,"v":0.189},{"s":"6TEGHSV T1","t":80,"v":0.183},{"s":"6TEGHSV T1","t":84,"v":0.174},{"s":"6TEGHSV T1","t":88,"v":0.170},{"s":"6TEGHSV T1","t":92,"v":0.166},{"s":"6TEGHSV T1","t":96,"v":0.168},{"s":"6TEGHSV T1","t":100,"v":0.166},{"s":"6TEGHSV T1","t":104,"v":0.164},{"s":"6TEGHSV T1","t":108,"v":0.160},{"s":"6TEGHSV T1","t":112,"v":0.158},{"s":"6TEGHSV T1","t":116,"v":0.158},{"s":"6TEGHSV T1","t":118,"v":0.156},{"s":"6TEGHSV T1","t":120,"v":0.152},{"s":"6TEGHSV T1","t":124,"v":0.149},{"s":"6TEGHSV T1","t":128,"v":0.149},{"s":"6TEGHSV T1","t":132,"v":0.150},{"s":"6TEGHSV T1","t":135,"v":0.154},{"s":"6TEGHSV T1","t":138,"v":0.145},{"s":"6TEGHSV T1","t":140,"v":0.174},{"s":"6TEGHSV T1","t":142,"v":0.185},{"s":"6TEGHSV T1","t":146,"v":0.181},{"s":"6TEGHSV T1","t":150,"v":0.176},{"s":"6TEGHSV T1","t":155,"v":0.174},{"s":"6TEGHSV T1","t":160,"v":0.172},{"s":"6TEGHSV T1","t":163,"v":0.176},{"s":"6TEGHSV T1","t":167,"v":0.172},{"s":"6TEGHSV T1","t":170,"v":0.168},{"s":"6TEGHSV T1","t":172,"v":0.141},{"s":"6TEGHSV T1","t":173,"v":0.125},{"s":"6TEGHSV T1","t":175,"v":0.158},{"s":"6TEGHSV T1","t":177,"v":0.145},{"s":"6TEGHSV T1","t":179,"v":0.117},{"s":"6TEGHSV T1","t":181,"v":0.096},{"s":"6TEGHSV T1","t":182,"v":0.086},{"s":"6TEGHSV T1","t":184,"v":0.104},{"s":"6TEGHSV T1","t":186,"v":0.133},{"s":"6TEGHSV T1","t":188,"v":0.143},{"s":"6TEGHSV T1","t":191,"v":0.139},{"s":"6TEGHSV T1","t":194,"v":0.143},{"s":"6TEGHSV T1","t":198,"v":0.141},{"s":"6TEGHSV T1","t":202,"v":0.139},{"s":"6TEGHSV T1","t":206,"v":0.136},{"s":"6TEGHSV T1","t":210,"v":0.135},{"s":"6TEGHSV T1","t":214,"v":0.138},{"s":"6TEGHSV T1","t":217,"v":0.133},{"s":"6TEGHSV T1","t":219,"v":0.143},{"s":"6TEGHSV T1","t":221,"v":0.148},{"s":"6TEGHSV T1","t":224,"v":0.145},{"s":"6TEGHSV T1","t":227,"v":0.150},{"s":"6TEGHSV T1","t":230,"v":0.143},{"s":"6TEGHSV T1","t":234,"v":0.139},{"s":"6TEGHSV T1","t":238,"v":0.137},{"s":"6TEGHSV T1","t":240,"v":0.129},{"s":"6TEGHSV T1","t":243,"v":0.150},{"s":"6TEGHSV T1","t":246,"v":0.133},{"s":"6TEGHSV T1","t":248,"v":0.125},{"s":"6TEGHSV T1","t":250,"v":0.145},{"s":"6TEGHSV T1","t":253,"v":0.158},{"s":"6TEGHSV T1","t":255,"v":0.170},{"s":"6TEGHSV T1","t":257,"v":0.174},{"s":"6TEGHSV T1","t":259,"v":0.166},{"s":"6TEGHSV T1","t":261,"v":0.154},{"s":"6TEGHSV T1","t":264,"v":0.152},{"s":"6TEGHSV T1","t":267,"v":0.158},{"s":"6TEGHSV T1","t":270,"v":0.183},{"s":"6TEGHSV T1","t":273,"v":0.185},{"s":"6TEGHSV T1","t":276,"v":0.176},{"s":"6TEGHSV T1","t":280,"v":0.166},{"s":"6TEGHSV T1","t":284,"v":0.160},{"s":"6TEGHSV T1","t":288,"v":0.162},{"s":"6TEGHSV T1","t":291,"v":0.168},{"s":"6TEGHSV T1","t":294,"v":0.145},{"s":"6TEGHSV T1","t":296,"v":0.123},{"s":"6TEGHSV T1","t":298,"v":0.137},{"s":"6TEGHSV T1","t":300,"v":0.139},
{"s":"6TEGHSV T2","t":0,"v":0.196},{"s":"6TEGHSV T2","t":4,"v":0.194},{"s":"6TEGHSV T2","t":8,"v":0.193},{"s":"6TEGHSV T2","t":12,"v":0.190},{"s":"6TEGHSV T2","t":15,"v":0.188},{"s":"6TEGHSV T2","t":18,"v":0.192},{"s":"6TEGHSV T2","t":21,"v":0.189},{"s":"6TEGHSV T2","t":25,"v":0.189},{"s":"6TEGHSV T2","t":29,"v":0.191},{"s":"6TEGHSV T2","t":31,"v":0.194},{"s":"6TEGHSV T2","t":33,"v":0.208},{"s":"6TEGHSV T2","t":35,"v":0.212},{"s":"6TEGHSV T2","t":37,"v":0.214},{"s":"6TEGHSV T2","t":50,"v":0.201},{"s":"6TEGHSV T2","t":75,"v":0.170},{"s":"6TEGHSV T2","t":101,"v":0.141},{"s":"6TEGHSV T2","t":102,"v":0.150},{"s":"6TEGHSV T2","t":110,"v":0.149},{"s":"6TEGHSV T2","t":118,"v":0.149},{"s":"6TEGHSV T2","t":120,"v":0.156},{"s":"6TEGHSV T2","t":122,"v":0.147},{"s":"6TEGHSV T2","t":124,"v":0.185},{"s":"6TEGHSV T2","t":126,"v":0.187},{"s":"6TEGHSV T2","t":128,"v":0.174},{"s":"6TEGHSV T2","t":131,"v":0.170},{"s":"6TEGHSV T2","t":134,"v":0.170},{"s":"6TEGHSV T2","t":135,"v":0.193},{"s":"6TEGHSV T2","t":140,"v":0.194},{"s":"6TEGHSV T2","t":145,"v":0.193},{"s":"6TEGHSV T2","t":150,"v":0.191},{"s":"6TEGHSV T2","t":155,"v":0.192},{"s":"6TEGHSV T2","t":160,"v":0.191},{"s":"6TEGHSV T2","t":165,"v":0.193},{"s":"6TEGHSV T2","t":170,"v":0.191},{"s":"6TEGHSV T2","t":175,"v":0.192},{"s":"6TEGHSV T2","t":180,"v":0.193},{"s":"6TEGHSV T2","t":185,"v":0.197},{"s":"6TEGHSV T2","t":188,"v":0.205},{"s":"6TEGHSV T2","t":192,"v":0.207},{"s":"6TEGHSV T2","t":195,"v":0.208},{"s":"6TEGHSV T2","t":226,"v":0.192},{"s":"6TEGHSV T2","t":258,"v":0.175},{"s":"6TEGHSV T2","t":260,"v":0.195},{"s":"6TEGHSV T2","t":264,"v":0.197},{"s":"6TEGHSV T2","t":270,"v":0.195},{"s":"6TEGHSV T2","t":275,"v":0.194},{"s":"6TEGHSV T2","t":280,"v":0.193},{"s":"6TEGHSV T2","t":285,"v":0.191},{"s":"6TEGHSV T2","t":290,"v":0.189},{"s":"6TEGHSV T2","t":293,"v":0.192},{"s":"6TEGHSV T2","t":297,"v":0.193},{"s":"6TEGHSV T2","t":300,"v":0.192},
{"s":"6TEGHSV T3","t":0,"v":0.195},{"s":"6TEGHSV T3","t":4,"v":0.193},{"s":"6TEGHSV T3","t":8,"v":0.191},{"s":"6TEGHSV T3","t":12,"v":0.189},{"s":"6TEGHSV T3","t":15,"v":0.186},{"s":"6TEGHSV T3","t":18,"v":0.191},{"s":"6TEGHSV T3","t":21,"v":0.187},{"s":"6TEGHSV T3","t":25,"v":0.188},{"s":"6TEGHSV T3","t":29,"v":0.189},{"s":"6TEGHSV T3","t":31,"v":0.191},{"s":"6TEGHSV T3","t":33,"v":0.205},{"s":"6TEGHSV T3","t":35,"v":0.207},{"s":"6TEGHSV T3","t":37,"v":0.210},{"s":"6TEGHSV T3","t":101,"v":0.133},{"s":"6TEGHSV T3","t":102,"v":0.145},{"s":"6TEGHSV T3","t":110,"v":0.145},{"s":"6TEGHSV T3","t":116,"v":0.143},{"s":"6TEGHSV T3","t":118,"v":0.152},{"s":"6TEGHSV T3","t":122,"v":0.150},{"s":"6TEGHSV T3","t":124,"v":0.166},{"s":"6TEGHSV T3","t":127,"v":0.174},{"s":"6TEGHSV T3","t":130,"v":0.171},{"s":"6TEGHSV T3","t":133,"v":0.174},{"s":"6TEGHSV T3","t":136,"v":0.175},{"s":"6TEGHSV T3","t":140,"v":0.174},{"s":"6TEGHSV T3","t":150,"v":0.174},{"s":"6TEGHSV T3","t":160,"v":0.172},{"s":"6TEGHSV T3","t":170,"v":0.172},{"s":"6TEGHSV T3","t":173,"v":0.174},{"s":"6TEGHSV T3","t":176,"v":0.185},{"s":"6TEGHSV T3","t":180,"v":0.188},{"s":"6TEGHSV T3","t":184,"v":0.191},{"s":"6TEGHSV T3","t":244,"v":0.162},{"s":"6TEGHSV T3","t":245,"v":0.181},{"s":"6TEGHSV T3","t":250,"v":0.179},{"s":"6TEGHSV T3","t":255,"v":0.179},{"s":"6TEGHSV T3","t":260,"v":0.174},{"s":"6TEGHSV T3","t":265,"v":0.176},{"s":"6TEGHSV T3","t":270,"v":0.181},{"s":"6TEGHSV T3","t":275,"v":0.176},{"s":"6TEGHSV T3","t":280,"v":0.172},{"s":"6TEGHSV T3","t":285,"v":0.170},{"s":"6TEGHSV T3","t":290,"v":0.168},{"s":"6TEGHSV T3","t":295,"v":0.164},{"s":"6TEGHSV T3","t":300,"v":0.166},
{"s":"6TEGHSV Avg","t":0,"v":0.154},{"s":"6TEGHSV Avg","t":1,"v":0.174},{"s":"6TEGHSV Avg","t":3,"v":0.179},{"s":"6TEGHSV Avg","t":6,"v":0.178},{"s":"6TEGHSV Avg","t":9,"v":0.174},{"s":"6TEGHSV Avg","t":12,"v":0.171},{"s":"6TEGHSV Avg","t":15,"v":0.168},{"s":"6TEGHSV Avg","t":18,"v":0.172},{"s":"6TEGHSV Avg","t":21,"v":0.169},{"s":"6TEGHSV Avg","t":24,"v":0.167},{"s":"6TEGHSV Avg","t":27,"v":0.169},{"s":"6TEGHSV Avg","t":30,"v":0.171},{"s":"6TEGHSV Avg","t":32,"v":0.187},{"s":"6TEGHSV Avg","t":34,"v":0.220},{"s":"6TEGHSV Avg","t":36,"v":0.224},{"s":"6TEGHSV Avg","t":38,"v":0.233},{"s":"6TEGHSV Avg","t":40,"v":0.226},{"s":"6TEGHSV Avg","t":44,"v":0.216},{"s":"6TEGHSV Avg","t":48,"v":0.207},{"s":"6TEGHSV Avg","t":51,"v":0.212},{"s":"6TEGHSV Avg","t":54,"v":0.203},{"s":"6TEGHSV Avg","t":57,"v":0.207},{"s":"6TEGHSV Avg","t":60,"v":0.205},{"s":"6TEGHSV Avg","t":65,"v":0.199},{"s":"6TEGHSV Avg","t":70,"v":0.191},{"s":"6TEGHSV Avg","t":75,"v":0.185},{"s":"6TEGHSV Avg","t":80,"v":0.179},{"s":"6TEGHSV Avg","t":85,"v":0.172},{"s":"6TEGHSV Avg","t":90,"v":0.166},{"s":"6TEGHSV Avg","t":95,"v":0.160},{"s":"6TEGHSV Avg","t":100,"v":0.156},{"s":"6TEGHSV Avg","t":102,"v":0.154},{"s":"6TEGHSV Avg","t":103,"v":0.160},{"s":"6TEGHSV Avg","t":108,"v":0.158},{"s":"6TEGHSV Avg","t":112,"v":0.157},{"s":"6TEGHSV Avg","t":116,"v":0.158},{"s":"6TEGHSV Avg","t":118,"v":0.152},{"s":"6TEGHSV Avg","t":121,"v":0.150},{"s":"6TEGHSV Avg","t":123,"v":0.160},{"s":"6TEGHSV Avg","t":126,"v":0.166},{"s":"6TEGHSV Avg","t":129,"v":0.167},{"s":"6TEGHSV Avg","t":132,"v":0.166},{"s":"6TEGHSV Avg","t":134,"v":0.170},{"s":"6TEGHSV Avg","t":137,"v":0.174},{"s":"6TEGHSV Avg","t":140,"v":0.172},{"s":"6TEGHSV Avg","t":143,"v":0.189},{"s":"6TEGHSV Avg","t":146,"v":0.181},{"s":"6TEGHSV Avg","t":150,"v":0.179},{"s":"6TEGHSV Avg","t":155,"v":0.179},{"s":"6TEGHSV Avg","t":160,"v":0.179},{"s":"6TEGHSV Avg","t":165,"v":0.179},{"s":"6TEGHSV Avg","t":168,"v":0.181},{"s":"6TEGHSV Avg","t":170,"v":0.174},{"s":"6TEGHSV Avg","t":172,"v":0.170},{"s":"6TEGHSV Avg","t":175,"v":0.166},{"s":"6TEGHSV Avg","t":178,"v":0.162},{"s":"6TEGHSV Avg","t":180,"v":0.160},{"s":"6TEGHSV Avg","t":182,"v":0.168},{"s":"6TEGHSV Avg","t":185,"v":0.179},{"s":"6TEGHSV Avg","t":188,"v":0.181},{"s":"6TEGHSV Avg","t":192,"v":0.179},{"s":"6TEGHSV Avg","t":196,"v":0.176},{"s":"6TEGHSV Avg","t":200,"v":0.174},{"s":"6TEGHSV Avg","t":205,"v":0.174},{"s":"6TEGHSV Avg","t":210,"v":0.172},{"s":"6TEGHSV Avg","t":215,"v":0.171},{"s":"6TEGHSV Avg","t":220,"v":0.172},{"s":"6TEGHSV Avg","t":225,"v":0.170},{"s":"6TEGHSV Avg","t":230,"v":0.169},{"s":"6TEGHSV Avg","t":235,"v":0.168},{"s":"6TEGHSV Avg","t":240,"v":0.164},{"s":"6TEGHSV Avg","t":243,"v":0.162},{"s":"6TEGHSV Avg","t":246,"v":0.164},{"s":"6TEGHSV Avg","t":248,"v":0.160},{"s":"6TEGHSV Avg","t":250,"v":0.170},{"s":"6TEGHSV Avg","t":254,"v":0.174},{"s":"6TEGHSV Avg","t":258,"v":0.172},{"s":"6TEGHSV Avg","t":262,"v":0.174},{"s":"6TEGHSV Avg","t":266,"v":0.176},{"s":"6TEGHSV Avg","t":270,"v":0.183},{"s":"6TEGHSV Avg","t":273,"v":0.183},{"s":"6TEGHSV Avg","t":276,"v":0.179},{"s":"6TEGHSV Avg","t":280,"v":0.174},{"s":"6TEGHSV Avg","t":284,"v":0.172},{"s":"6TEGHSV Avg","t":288,"v":0.171},{"s":"6TEGHSV Avg","t":291,"v":0.174},{"s":"6TEGHSV Avg","t":294,"v":0.166},{"s":"6TEGHSV Avg","t":296,"v":0.162},{"s":"6TEGHSV Avg","t":298,"v":0.166},{"s":"6TEGHSV Avg","t":300,"v":0.166}
]
},
"spacing":37,
"resolve":{"scale":{"color":"independent"},"legend":{"color":"independent"}},
"vconcat":[
{"bounds":"flush","spacing":149.8,"resolve":{"scale":{"color":"independent"},"legend":{"color":"independent"}},"hconcat":[
{"title":{"text":"a)","anchor":"start","frame":"group","offset":0,"baseline":"alphabetic","dx":-130,"dy":34.7,"font":"Liberation Serif","fontSize":24,"fontWeight":"normal","color":"#000"},
"width":440.7,"height":231,"data":{"name":"a"},
"mark":{"type":"line","strokeWidth":2},
"encoding":{
"x":{"field":"t","type":"quantitative","title":"time(s)","scale":{"domain":[0,310],"nice":false},"axis":{"values":[0,100,200,300]}},
"y":{"field":"v","type":"quantitative","title":"voltage(V)","scale":{"domain":[0,0.2],"nice":false},"axis":{"values":[0,0.05,0.1,0.15,0.2],"format":".2f","titleY":126}},
"color":{"field":"s","type":"nominal","scale":{"domain":["4TEG Voltage T1","4TEG Voltage T2","4TEG Voltage T3"," ","4TEG Voltage Avg"],"range":["#4285F4","#DB4437","#F4B400","#ffffff","#1FA34A"]},"legend":{"title":null,"columns":3,"legendX":26,"legendY":14}}
}},
{"title":{"text":"b)","anchor":"start","frame":"group","offset":0,"baseline":"alphabetic","dx":-121,"dy":27.3,"font":"Liberation Serif","fontSize":24,"fontWeight":"normal","color":"#000"},
"width":433.5,"height":231,"data":{"name":"b"},
"mark":{"type":"line","strokeWidth":2},
"encoding":{
"x":{"field":"t","type":"quantitative","title":"time(s)","scale":{"domain":[0,300],"nice":false},"axis":{"values":[0,100,200,300]}},
"y":{"field":"v","type":"quantitative","title":"voltage(V)","scale":{"domain":[0,0.3],"nice":false},"axis":{"values":[0,0.05,0.1,0.15,0.2,0.25],"format":".2f","titleY":125}},
"color":{"field":"s","type":"nominal","scale":{"domain":["5TEG Voltage T1","5TEG Voltage T2","5TEG Voltage T3"," ","5TEG Voltage Avg"],"range":["#4285F4","#DB4437","#F4B400","#ffffff","#1FA34A"]},"legend":{"title":null,"columns":3,"legendX":22,"legendY":14,"columnPadding":5}}
}}
]},
{"bounds":"flush","spacing":138.6,"resolve":{"scale":{"color":"independent"},"legend":{"color":"independent"}},"hconcat":[
{"title":{"text":"c)","anchor":"start","frame":"group","offset":0,"baseline":"alphabetic","dx":-130,"dy":39,"font":"Liberation Serif","fontSize":24,"fontWeight":"normal","color":"#000"},
"width":441,"height":231.6,"data":{"name":"c"},
"mark":{"type":"line","strokeWidth":2},
"encoding":{
"x":{"field":"t","type":"quantitative","title":"time(s)","scale":{"domain":[0,300],"nice":false},"axis":{"values":[0,100,200,300]}},
"y":{"field":"v","type":"quantitative","title":"voltage(V)","scale":{"domain":[0,0.3],"nice":false},"axis":{"values":[0,0.05,0.1,0.15,0.2,0.25],"format":".2f","titleY":127}},
"color":{"field":"s","type":"nominal","scale":{"domain":["6TEG Voltage T1","6TEG Voltage T2","6TEG Voltage T3"," ","6TEG Voltage Avg"],"range":["#4285F4","#DB4437","#F4B400","#ffffff","#1FA34A"]},"legend":{"title":null,"columns":3,"legendX":22,"legendY":13}}
}},
{"title":{"text":"d)","anchor":"start","frame":"group","offset":0,"baseline":"alphabetic","dx":-110,"dy":36.3,"font":"Liberation Serif","fontSize":24,"fontWeight":"normal","color":"#000"},
"width":447.7,"height":242,"data":{"name":"d"},
"mark":{"type":"line","strokeWidth":2},
"encoding":{
"x":{"field":"t","type":"quantitative","title":"time(s)","scale":{"domain":[0,300],"nice":false},"axis":{"values":[0,100,200,300],"labelFontSize":12.5,"titleFontSize":12.5,"titlePadding":19}},
"y":{"field":"v","type":"quantitative","title":"voltage(V)","scale":{"domain":[0,0.3],"nice":false},"axis":{"values":[0,0.05,0.1,0.15,0.2,0.25],"format":".2f","labelFontSize":12.5,"titleFontSize":12.5,"labelPadding":7,"titlePadding":19,"titleY":129}},
"color":{"field":"s","type":"nominal","scale":{"domain":["6TEGHSV T1","6TEGHSV T2","6TEGHSV T3","6TEGHSV Avg"],"range":["#4285F4","#DB4437","#F4B400","#1FA34A"]},"legend":{"title":null,"columns":4,"legendX":18.5,"legendY":2,"labelFontSize":10.5,"symbolSize":196,"columnPadding":9}}
}}
]}
]
}
